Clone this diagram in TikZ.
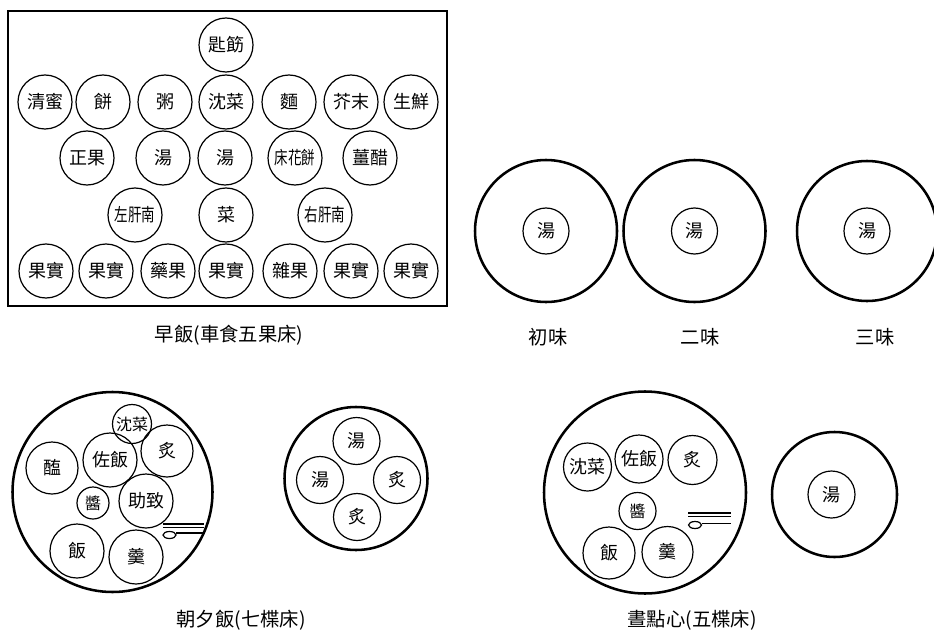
\documentclass[tikz,border=0pt]{standalone}
\usepackage{fontspec}
\usepackage{graphicx}
\newfontfamily\cjk{Noto Sans CJK TC}
\newcommand{\narrow}[1]{\scalebox{0.75}[1]{#1}}
\begin{document}
\begin{tikzpicture}[x=0.75pt,y=-0.75pt,
  dish/.style={circle,draw,line width=0.9pt,inner sep=0pt,minimum size=#1*1.5pt,
    font=\cjk\fontsize{13.5pt}{15pt}\selectfont},
  sdish/.style={dish=#1,font=\cjk\fontsize{12pt}{14pt}\selectfont},
  tray/.style={circle,draw,line width=1.9pt,inner sep=0pt,minimum size=#1*1.5pt},
  captext/.style={inner sep=0pt,font=\cjk\fontsize{14.5pt}{16pt}\selectfont},
  utensil/.style={line width=0.9pt}]
\useasboundingbox (0,0) rectangle (934,638);
% ---------- breakfast box ----------
\draw[line width=2pt] (8,11) rectangle (447,306);
\node[dish=27] (a1) at (226,45) {匙筯};
\node[dish=27] (b1) at (45,102) {清蜜};
\node[dish=27] (b2) at (103,102) {餅};
\node[dish=27] (b3) at (165,102) {粥};
\node[dish=27] (b4) at (226,102) {沈菜};
\node[dish=27] (b5) at (289,102) {麵};
\node[dish=27] (b6) at (351,102) {芥末};
\node[dish=27] (b7) at (411,102) {生鮮};
\node[dish=27] (c1) at (87,158) {正果};
\node[dish=27] (c2) at (163,158) {湯};
\node[dish=27] (c3) at (225,158) {湯};
\node[dish=27] (c4) at (295,158) {\narrow{床花餅}};
\node[dish=27] (c5) at (370,158) {薑醋};
\node[dish=27] (d1) at (135,215) {\narrow{左肝南}};
\node[dish=27] (d2) at (226,215) {菜};
\node[dish=27] (d3) at (325,215) {\narrow{右肝南}};
\node[dish=27] (e1) at (46,271) {果實};
\node[dish=27] (e2) at (106,271) {果實};
\node[dish=27] (e3) at (168,271) {藥果};
\node[dish=27] (e4) at (226,271) {果實};
\node[dish=27] (e5) at (290,271) {雜果};
\node[dish=27] (e6) at (351,271) {果實};
\node[dish=27] (e7) at (411,271) {果實};
\node[captext] (capA) at (229,335) {早飯(車食五果床)};
% ---------- three soup trays ----------
\node[tray=71] (t1) at (546,231) {};
\node[dish=23] (s1) at (t1.center) {湯};
\node[tray=71] (t2) at (694.5,231) {};
\node[dish=23] (s2) at (t2.center) {湯};
\node[tray=70] (t3) at (867,231) {};
\node[dish=23] (s3) at (t3.center) {湯};
\node[captext] (capB1) at (548,337) {初味};
\node[captext] (capB2) at (700,337) {二味};
\node[captext] (capB3) at (875,337) {三味};
% ---------- morning / evening meal ----------
\node[tray=100] (m) at (112.5,492) {};
\node[sdish=19.5] (m1) at (132,424) {沈菜};
\node[dish=26] (m2) at (167,451) {炙};
\node[dish=26] (m3) at (52,468) {醢};
\node[dish=27] (m4) at (110,460) {佐飯};
\node[sdish=16] (m5) at (93,503) {醬};
\node[dish=27] (m6) at (146,501) {助致};
\node[dish=27] (m7) at (77,551) {飯};
\node[dish=27] (m8) at (136,557) {羹};
\draw[utensil] (163,524) -- (204,524);
\draw[utensil] (163,527.5) -- (204,527.5);
\draw[utensil] (169.5,535) ellipse [x radius=6.5, y radius=3.5];
\draw[utensil] (176,533) -- (204,533);
\node[tray=71.5] (n) at (356,478.5) {};
\node[dish=23.5] (n1) at (356.5,441) {湯};
\node[dish=23.5] (n2) at (320,480) {湯};
\node[dish=23.5] (n3) at (397,480) {炙};
\node[dish=23.5] (n4) at (357,517) {炙};
\node[captext] (capC) at (241,620) {朝夕飯(七楪床)};
% ---------- lunch ----------
\node[tray=101] (l) at (645,492.5) {};
\node[dish=24] (l1) at (587.5,467) {沈菜};
\node[dish=24] (l2) at (639,459) {佐飯};
\node[dish=24.5] (l3) at (692.5,460) {炙};
\node[sdish=18.5] (l4) at (637.5,511) {醬};
\node[dish=26] (l5) at (609,553) {飯};
\node[dish=25.5] (l6) at (667.5,552) {羹};
\draw[utensil] (688,513) -- (731,513);
\draw[utensil] (688,516.5) -- (731,516.5);
\draw[utensil] (695,525) ellipse [x radius=6.5, y radius=3.5];
\draw[utensil] (701.5,523.5) -- (731,523.5);
\node[tray=62.5] (r) at (834.5,494.5) {};
\node[dish=23.5] (r1) at (831.5,494.5) {湯};
\node[captext] (capD) at (692,620) {晝點心(五楪床)};
\end{tikzpicture}
\end{document}
